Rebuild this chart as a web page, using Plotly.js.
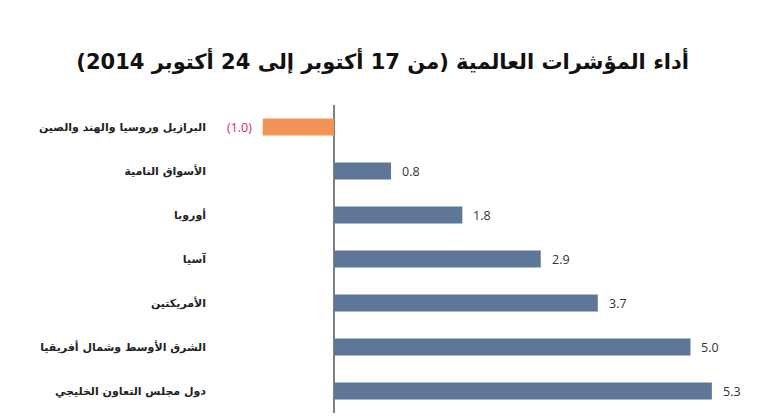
<!DOCTYPE html>
<html>
<head>
<meta charset="utf-8">
<script src="https://cdn.plot.ly/plotly-3.0.1.min.js"></script>
<style>html,body{margin:0;padding:0;background:#fff;}</style>
</head>
<body>
<div id="chart" style="width:770px;height:419px;"></div>
<script>
const categories = [
  "البرازيل وروسيا والهند والصين",
  "الأسواق النامية",
  "أوروبا",
  "آسيا",
  "الأمريكتين",
  "الشرق الأوسط وشمال أفريقيا",
  "دول مجلس التعاون الخليجي"
];
const values = [-1.0, 0.8, 1.8, 2.9, 3.7, 5.0, 5.3];
const titleText = "\u200Fأداء المؤشرات العالمية (من 17 أكتوبر إلى 24 أكتوبر 2014)\u200F";

const barColors = values.map(v => v < 0 ? "#f39457" : "#5e7799");
const labelText = values.map(v => v < 0 ? "(" + Math.abs(v).toFixed(1) + ")" : v.toFixed(1));

const annotations = values.map((v, i) => ({
  x: v, y: categories[i], xref: "x", yref: "y",
  text: labelText[i], showarrow: false,
  xanchor: v < 0 ? "right" : "left",
  xshift: v < 0 ? -9 : 9,
  font: {family: "Open Sans, DejaVu Sans, sans-serif", size: 12.5, color: v < 0 ? "#d2344f" : "#333333"}
}));

Plotly.newPlot("chart", [{
  type: "bar", orientation: "h",
  x: values, y: categories,
  marker: {color: barColors},
  width: 0.39,
  hoverinfo: "none"
}], {
  width: 770, height: 419,
  margin: {l: 215, r: 10, t: 105, b: 6},
  paper_bgcolor: "#fff", plot_bgcolor: "#fff",
  showlegend: false,
  title: {
    text: titleText, x: 0.497, xanchor: "center", xref: "container",
    y: 1 - 62/419, yanchor: "middle", yref: "container",
    font: {family: "DejaVu Sans, sans-serif", size: 21, color: "#111", weight: "bold"}
  },
  xaxis: {
    range: [-1.669, 5.975], showgrid: false, showticklabels: false, ticks: "",
    zeroline: true, zerolinecolor: "#7f7f7f", zerolinewidth: 2, fixedrange: true
  },
  yaxis: {
    type: "category", autorange: "reversed", showgrid: false, ticks: "",
    showline: false, zeroline: false, ticklabelstandoff: 8,
    tickfont: {family: "DejaVu Sans, sans-serif", size: 11, color: "#222", weight: "bold"}
  },
  annotations: annotations
}, {staticPlot: true, displayModeBar: false});
</script>
</body>
</html>
